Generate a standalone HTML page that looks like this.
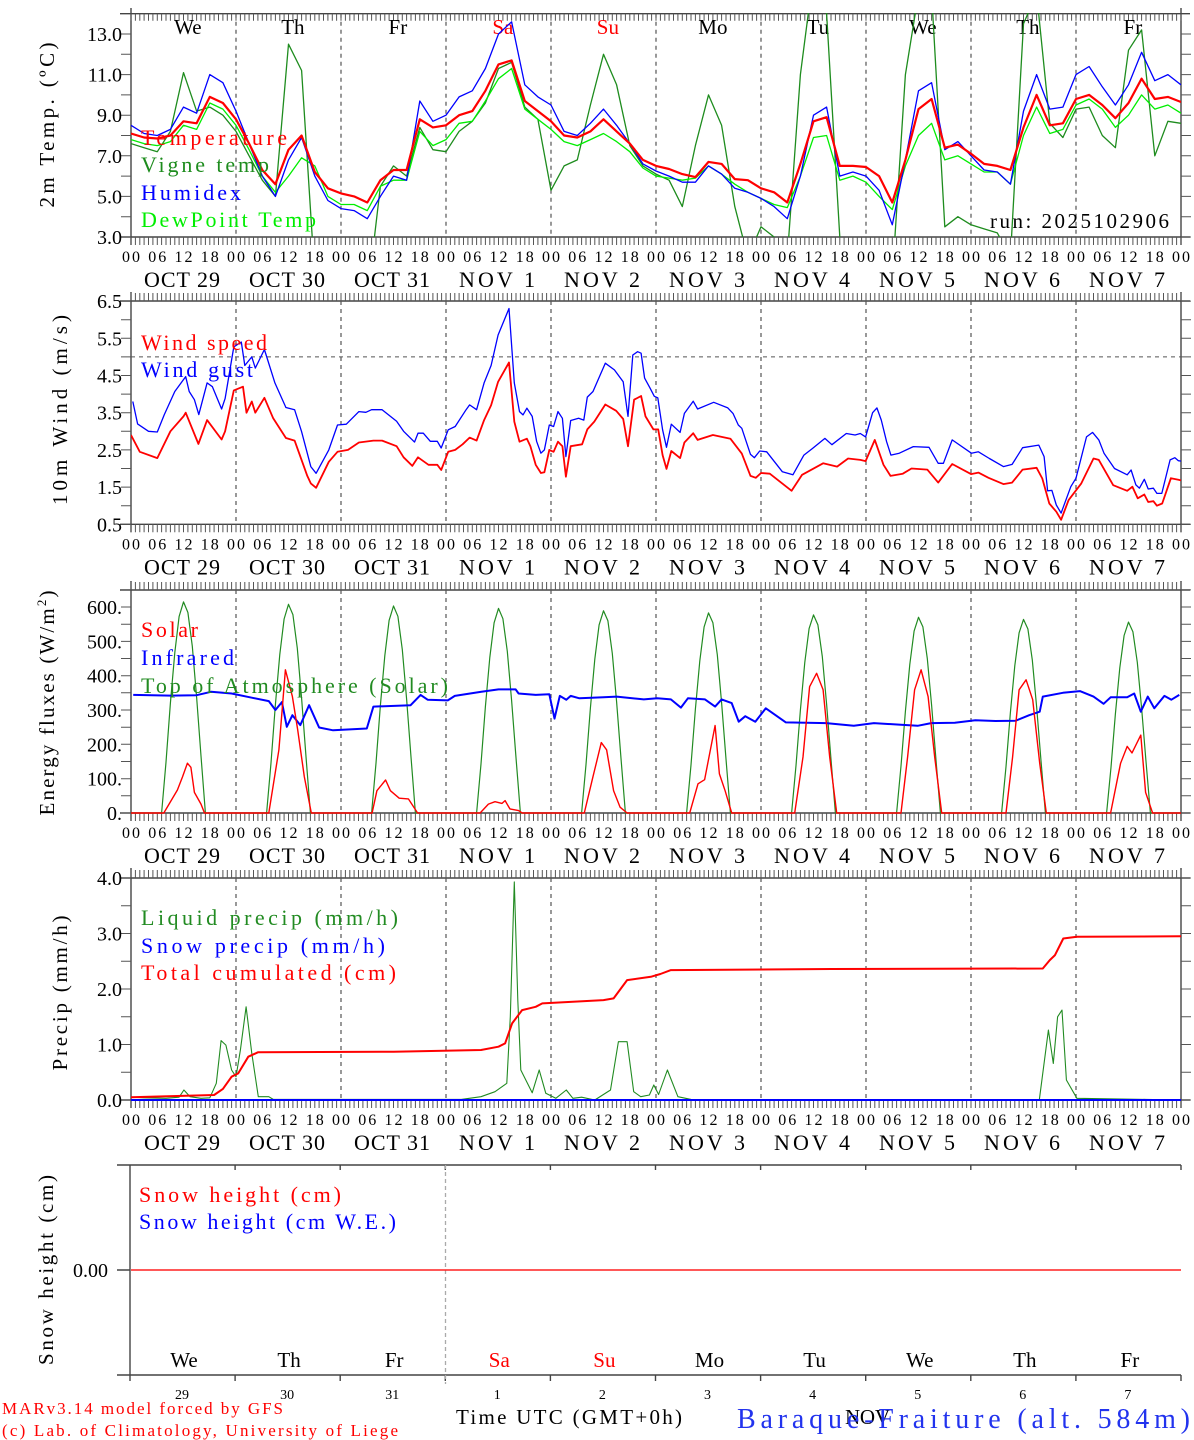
<!DOCTYPE html>
<html><head><meta charset="utf-8"><title>MAR forecast Baraque-Fraiture</title>
<style>
html,body{margin:0;padding:0;background:#fff;}
svg{display:block;font-family:"Liberation Serif",serif;}
</style></head>
<body>
<svg id="chart" xmlns="http://www.w3.org/2000/svg" width="1194" height="1440" viewBox="0 0 1194 1440">
<rect x="0" y="0" width="1194" height="1440" fill="#fff"/>
<defs>
<clipPath id="c1"><rect x="131" y="13" width="1050" height="224"/></clipPath>
<clipPath id="c2"><rect x="131" y="295" width="1050" height="230"/></clipPath>
<clipPath id="c3"><rect x="131" y="585" width="1050" height="229"/></clipPath>
<clipPath id="c4"><rect x="131" y="870" width="1050" height="231"/></clipPath>
</defs>
</svg>
<script>
// ---------- DATA ----------
const weekdays = ['We','Th','Fr','Sa','Su','Mo','Tu','We','Th','Fr'];
const weekendIdx = [3,4];
const dateLabels = ['OCT 29','OCT 30','OCT 31','NOV  1','NOV  2','NOV  3','NOV  4','NOV  5','NOV  6','NOV  7'];
const dayNumbers = ['29','30','31','1','2','3','4','5','6','7'];
const hourLabels = ['00','06','12','18'];

const tempHours = [0,3,6,9,12,15,18,21,24,27,30,33,36,39,42,45,48,51,54,57,60,63,66,69,72,75,78,81,84,87,90,93,96,99,102,105,108,111,114,117,120,123,126,129,132,135,138,141,144,147,150,153,156,159,162,165,168,171,174,177,180,183,186,189,192,195,198,201,204,207,210,213,216,219,222,225,228,231,234,237,240];
const temperature = [8.1,7.9,7.85,8.0,8.7,8.6,9.9,9.6,8.8,7.6,6.3,5.6,7.3,8.0,6.2,5.4,5.15,5.0,4.7,5.8,6.3,6.3,8.8,8.4,8.5,9.0,9.2,10.2,11.5,11.7,9.7,9.2,8.7,8.0,7.9,8.2,8.8,8.2,7.6,6.8,6.5,6.35,6.1,5.95,6.7,6.6,5.85,5.8,5.4,5.2,4.7,6.6,8.7,8.9,6.5,6.5,6.45,6.0,4.7,6.8,9.3,9.8,7.4,7.55,7.1,6.6,6.5,6.3,8.4,10.0,8.5,8.6,9.8,10.0,9.5,8.85,9.6,10.8,9.8,9.9,9.65];
const vigneTemp = [7.6,7.4,7.2,8.2,11.1,9.2,9.4,9.0,8.2,7.0,5.8,5.0,12.5,11.2,1.0,-1,-2,-2,0,5.5,6.5,6.0,8.4,7.3,7.2,8.2,8.7,9.6,11.3,11.6,9.4,8.8,5.3,6.5,6.8,9.5,12.0,10.5,7.5,6.5,6.1,5.8,4.5,7.5,10.0,8.5,4.5,2.0,3.5,3.0,2.0,11.0,16,14,3.0,0.5,1.5,0,1.0,11,15,15,3.5,4.0,3.6,3.4,3.2,2.0,13.5,15,8.6,7.9,9.3,9.4,8.0,7.4,12.2,13.2,7.0,8.7,8.6];
const humidex = [8.5,8.1,8.0,8.3,9.4,9.1,11.0,10.6,9.2,7.6,6.0,5.0,6.8,7.9,6.0,4.8,4.4,4.3,3.9,5.0,6.0,5.8,9.7,8.7,9.0,9.9,10.2,11.3,13.0,13.6,10.5,9.9,9.5,8.2,8.0,8.6,9.3,8.5,7.6,6.6,6.25,6.0,5.7,5.7,6.5,6.1,5.4,5.2,4.9,4.5,3.9,6.0,9.0,9.4,6.0,6.2,6.0,5.3,3.6,6.8,10.2,10.6,7.3,7.7,7.0,6.3,6.2,5.6,9.2,11.0,9.3,9.4,11.0,11.4,10.4,9.5,10.5,12.1,10.7,11.0,10.5];
const dewPoint = [7.8,7.6,7.5,7.7,8.5,8.3,9.6,9.3,8.5,7.3,6.0,5.2,6.0,6.9,6.5,5.0,4.6,4.6,4.3,5.5,5.8,5.8,8.2,7.5,7.8,8.6,8.7,9.7,10.8,11.3,9.3,8.8,8.3,7.7,7.5,7.8,8.1,7.7,7.2,6.4,6.0,5.9,5.8,5.9,6.5,6.1,5.6,5.2,4.9,4.6,4.45,6.0,7.9,8.0,5.8,6.0,5.7,5.0,4.35,6.5,8.0,8.6,6.8,7.0,6.6,6.2,6.2,5.6,8.0,9.4,8.1,8.3,9.5,9.8,9.3,8.4,9.0,10.0,9.3,9.5,9.1];

const windHours = [0,2,6,9,12,12.5,15.4,17.4,20.7,21.5,23.5,25.6,26.4,27.6,28.4,30.5,32.5,35.4,37.4,40.3,41.1,42.3,45.2,47.2,49.6,52.1,55.4,57.4,60.7,62.3,64.3,65.6,68,70,70.9,72.5,74.1,75.8,77.4,79,80.7,82.3,83.9,86.4,87.6,88.8,90.5,91.3,92.5,93.7,94.5,95.6,96.6,97.6,98.6,99.4,100.5,103.1,104.3,105.9,108.4,110.9,112.5,113.6,115,116.6,117.6,119.4,120.5,121.5,122.4,123.5,125.5,126.5,128.5,129.5,133,137,139.6,141.6,142.8,144,146,151,153.4,158.2,161.4,163.9,166.7,167.9,170,172,173.6,176.4,178.4,182,184.5,187.7,192,193.7,196,199.4,201.4,203.8,207,208.3,209.9,211.5,212.6,214.3,217.2,220,221.2,224.5,227.7,228.9,230.1,231.6,232.5,233.7,234.5,235.7,237.7,239.4,240];
const windSpeed = [2.9,2.45,2.28,3.0,3.4,3.5,2.66,3.3,2.78,3.0,4.1,4.2,3.5,3.8,3.5,3.9,3.35,2.82,2.75,1.8,1.6,1.48,2.18,2.45,2.5,2.7,2.75,2.75,2.6,2.3,2.07,2.3,2.1,2.1,1.96,2.45,2.5,2.65,2.83,2.75,3.3,3.7,4.33,4.85,3.26,2.72,2.8,2.6,2.1,1.88,1.9,2.5,2.45,2.72,2.6,1.78,2.6,2.65,3.05,3.26,3.72,3.55,3.33,2.6,3.85,3.95,3.4,3.05,3.05,2.36,1.99,2.47,2.28,2.7,2.95,2.77,2.9,2.8,2.4,1.8,1.75,1.88,1.86,1.4,1.83,2.14,2.05,2.27,2.23,2.2,2.77,2.1,1.8,1.86,2.0,1.97,1.62,2.12,1.85,1.89,1.75,1.58,1.62,1.97,2.02,1.73,1.06,0.84,0.62,1.15,1.6,2.27,2.23,1.55,1.4,1.51,1.2,1.3,1.1,1.12,1.0,1.06,1.74,1.7,1.68];
const gustHours = [0.4,1.5,4,6,7.6,10,12.5,13.3,14.5,15.5,17.4,18.6,20.7,21.5,23.5,25.2,26,27.6,28.4,30.5,32.9,35.4,37.4,39,41.1,42.3,45.2,47.2,49.2,52.1,53.7,55,57.4,60.7,62.3,64.8,65.6,66.8,68.4,70,70.9,72.5,74.1,76.6,77.4,79,80.7,82.3,83.9,86.4,87.6,88.8,89.6,90.5,91.7,92.7,93.7,94.5,95.6,96.6,97.6,98.6,99.4,100.5,102.3,103.5,104.3,105.6,108.4,110.5,112.5,113.6,114.7,115.8,116.6,117.4,118.6,119.6,120.4,121.5,122.4,123.5,125.5,126.5,128.5,129.5,133.2,136.4,137.6,138.8,139.6,141.6,142.5,143.7,145.3,148.9,151.3,153.8,155.8,158.6,160.2,163.5,165.5,166.7,167.9,169.5,170.5,171.5,172.7,173.7,175.6,178.8,182.4,184.5,185.7,187.7,192.1,193.7,196.2,199.4,201.4,203.8,207.5,208.7,209.5,210.5,211.5,212.6,214.8,216,218.4,219.8,221.2,222.4,224.8,227.7,228.6,229.7,230.5,231.6,232.5,233.7,234.5,235.6,237.5,238.6,239.4,240];
const windGust = [3.8,3.2,3.0,2.98,3.45,4.07,4.47,4.07,3.85,3.45,4.3,4.2,3.6,3.88,5.27,5.4,4.77,5.0,4.7,5.2,4.3,3.64,3.58,2.99,2.05,1.87,2.5,3.17,3.19,3.53,3.51,3.58,3.58,3.27,3.0,2.71,2.95,2.95,2.73,2.73,2.55,3.04,3.13,3.58,3.71,3.58,4.3,4.77,5.59,6.3,4.3,3.53,3.44,3.62,3.4,2.73,2.41,2.5,3.17,3.13,3.53,3.35,2.32,3.29,3.35,3.3,3.92,4.07,4.83,4.65,4.33,3.4,5.05,5.14,5.1,4.43,4.17,3.94,3.9,3.04,2.57,3.19,2.97,3.48,3.81,3.6,3.78,3.63,3.48,3.17,3.08,2.38,2.29,2.47,2.45,1.91,1.83,2.36,2.54,2.81,2.64,2.94,2.9,2.94,2.85,3.5,3.63,3.3,2.72,2.36,2.41,2.59,2.57,2.14,2.14,2.77,2.41,2.45,2.27,2.05,2.11,2.56,2.63,2.32,1.4,1.41,1.02,0.8,1.51,1.74,2.85,2.97,2.77,2.41,2.0,1.83,1.96,1.56,1.47,1.71,1.45,1.47,1.33,1.33,2.23,2.29,2.21,2.2];

const toaHourOffsets = [7,8,9,10,11,12,13,14,15,16,17];
const toaValues = [
 [0,148,320,467,572,615,584,486,338,166,0],
 [0,146,316,462,565,608,578,480,334,164,0],
 [0,145,314,458,561,603,573,476,332,163,0],
 [0,143,310,453,554,596,566,471,328,161,0],
 [0,141,306,448,548,589,560,465,324,159,0],
 [0,140,303,443,542,583,554,461,321,157,0],
 [0,138,300,439,537,577,548,456,317,156,0],
 [0,137,296,433,530,570,542,450,314,154,0],
 [0,135,293,429,525,564,536,446,310,152,0],
 [0,133,289,423,517,556,528,439,306,150,0]
];
const solarHours = [0,7.5,10.6,11.8,12.9,13.7,14.5,16,16.8,31.5,33.8,35.3,36.9,38.1,39.6,41.2,55.1,56.2,58.2,59.3,61.3,63.4,65.5,79.8,81.7,83.2,84.8,85.5,86.6,88.6,89.4,103.6,105.6,107.5,108.7,110.3,111.8,113.4,127.7,129.6,131.1,133.5,134.5,135.8,137.3,151.7,153.6,155.1,156.7,158.2,159.7,161.3,176,177.5,179.1,180.6,182.2,183.7,185.3,200,201.5,203,204.6,206.1,207.7,209.2,223.9,226.2,227.7,228.8,230.8,231.9,233.5,240];
const solarValues = [0,0,67,106,145,133,60,26,0,0,184,417,339,242,106,0,0,65,96,65,43,41,0,0,26,33,28,36,12,7,0,0,106,205,184,65,17,0,0,85,97,255,114,65,0,0,163,368,407,359,163,0,0,163,359,417,339,163,0,0,163,359,388,330,145,0,0,145,194,175,227,60,0,0];
const irHours = [0.5,9,15,18.3,23,27.6,31.5,33,34.5,35.6,36.9,38.7,40.7,43,46.2,53.9,55.4,63.9,66.2,67.8,72.4,74,80.1,84,87.9,88.6,92.5,95.6,96.8,98,99.5,100.5,102.5,108,111,117.2,120.3,123.4,125.7,127.3,131.2,133.5,135,137.3,138.9,140.4,142.7,145.1,149.7,154.3,158.9,165.2,169.8,176,179.8,182.9,188.3,193,197.6,202.2,205.3,207.7,208.4,213,216.9,220,222.3,223.9,227.7,229.3,230.8,232.4,233.9,236.2,237.8,239.6];
const irValues = [344,342,343,353,348,336,326,300,323,251,285,256,314,249,241,246,310,314,344,330,328,341,353,360,360,348,344,346,275,341,330,341,334,337,339,331,334,331,307,334,331,310,331,320,266,282,266,305,264,263,262,254,262,257,254,262,263,270,268,269,285,295,339,350,355,339,318,337,337,348,295,339,305,341,330,344];

const liquidHours = [0,3,8,11,12.1,13.5,16,18,19.5,20.6,21.7,23,24,25,26.3,27.6,29.1,31.5,32.5,75.5,80,83.2,85.9,86.7,87.6,88.4,89.1,91.7,93.3,94.8,97.1,99.5,101,103,106,109.6,111.4,113.4,114.9,116.5,118.5,119.5,120.6,122.6,125,128,207.6,209.7,210.8,211.8,212.8,213.8,216.2,232,240];
const liquidPrecip = [0.05,0.04,0.03,0.05,0.18,0.06,0.03,0.04,0.3,1.07,0.99,0.54,0.42,0.9,1.68,0.84,0.06,0.06,0.01,0.01,0.06,0.15,0.3,1.5,3.93,1.8,0.54,0.13,0.54,0.12,0.03,0.18,0.03,0.05,0.0,0.18,1.05,1.05,0.15,0.06,0.09,0.27,0.1,0.54,0.06,0.01,0,1.26,0.66,1.5,1.62,0.36,0.03,0.01,0.0];
const snowPrecipHours = [0,240];
const snowPrecip = [0,0];
const cumHours = [0,19,21,23,24.5,26.8,29,60,80,84,85.5,87.1,89.4,92.5,94,108,110.3,113.4,118.8,121,123.4,160,208.4,210,211.2,213.1,216.2,240];
const cumPrecip = [0.05,0.09,0.2,0.42,0.48,0.78,0.86,0.87,0.9,0.96,1.02,1.38,1.62,1.68,1.74,1.8,1.83,2.16,2.22,2.27,2.34,2.36,2.37,2.52,2.61,2.91,2.94,2.95];
const snowHeightHours = [0,240];
const snowHeight = [0,0];

const tempTicks = ['13.0','11.0','9.0','7.0','5.0','3.0'];
const windTicks = ['6.5','5.5','4.5','3.5','2.5','1.5','0.5'];
const energyTicks = ['600.','500.','400.','300.','200.','100.','0.'];
const precipTicks = ['4.0','3.0','2.0','1.0','0.0'];

// ---------- HELPERS ----------
const NS = 'http://www.w3.org/2000/svg';
const svg = document.getElementById('chart');
function mk(tag, attrs, parent){
  const e = document.createElementNS(NS, tag);
  for (const k in attrs) e.setAttribute(k, attrs[k]);
  (parent || svg).appendChild(e);
  return e;
}
function txt(x, y, s, size, fill, anchor, len, parent){
  const e = mk('text', {x:x, y:y, 'font-size':size, fill:fill||'#000', 'text-anchor':anchor||'start', 'font-family':'"Liberation Serif", serif'}, parent);
  if (len){ e.setAttribute('textLength', len); e.setAttribute('lengthAdjust','spacing'); }
  e.textContent = s;
  return e;
}
const xs = h => 131 + h * 105 / 24;
const y1 = v => 237 - (v - 3) * 20.3;
const y2 = v => 524.3 - (v - 0.5) * 37.2;
const y3 = v => 813 - v * 0.3433;
const y4 = v => 1100 - v * 55.5;

function series(hours, vals, yf, color, w, clip, name){
  let pts = [];
  for (let i = 0; i < hours.length; i++) pts.push(xs(hours[i]).toFixed(1) + ',' + yf(vals[i]).toFixed(1));
  const p = mk('polyline', {points: pts.join(' '), fill:'none', stroke:color, 'stroke-width':w, 'stroke-linejoin':'round', 'clip-path':'url(#' + clip + ')'});
  
  
  return p;
}

function frame(top, bot, axTop, tickUp, yf, minorVals, labels, labelVals, name){
  const g = mk('g', {});
  
  
  let d = 'M120 ' + top + 'H1190M120 ' + bot + 'H1190M131 ' + axTop + 'V' + (bot + 8) + 'M1181 ' + axTop + 'V' + (bot + 8);
  const fr = mk('path', {d:d, stroke:'#444', 'stroke-width':1.4, fill:'none'}, g);
  
  
  let t = '';
  for (let h = 0; h <= 240; h++){
    const x = xs(h).toFixed(1);
    t += 'M' + x + ' ' + top + 'V' + (tickUp ? top - 8 : top + 7);
    t += 'M' + x + ' ' + bot + 'V' + (bot + 8);
  }
  for (const v of minorVals){
    const y = yf(v).toFixed(1);
    t += 'M121 ' + y + 'H131M1181 ' + y + 'H1191';
  }
  const tk = mk('path', {d:t, stroke:'#555', 'stroke-width':1}, g);
  
  
  let dl = '';
  for (let k = 1; k < 10; k++) dl += 'M' + xs(24 * k).toFixed(1) + ' ' + top + 'V' + bot;
  const dash = mk('path', {d:dl, stroke:'#555', 'stroke-width':1.2, 'stroke-dasharray':'4,4'}, g);
  
  
  for (let i = 0; i < labels.length; i++){
    const tl = txt(122, yf(labelVals[i]) + 7, labels[i], 20, '#000', 'end', null, g);
    
    
  }
  for (let dd = 0; dd < 10; dd++){
    for (let k = 0; k < 4; k++){
      const hl = txt(xs(24 * dd + 6 * k), bot + 25, hourLabels[k], 16, '#000', 'middle', 18, g);
      
      
    }
    const dlab = txt(xs(24 * dd) + 51, bot + 50, dateLabels[dd], 22, '#000', 'middle', 76, g);
    
    
  }
  const last = txt(1181, bot + 25, '00', 16, '#000', 'middle', 18, g);
  
  
}
function legend(x, y, s, color, len){
  const e = txt(x, y + 7, s, 22, color, 'start', len);
  
  
}
function ytitle(cx, cy, s, len){
  const e = txt(0, 0, s, 21, '#000', 'middle', len);
  e.setAttribute('transform', 'translate(' + (cx + 7) + ',' + cy + ') rotate(-90)');
  
  
}

// ---------- PANEL 1: temperature ----------
frame(13.7, 237, 8, false, y1, [3,4,5,6,7,8,9,10,11,12,13], tempTicks, [13,11,9,7,5,3], 'temp');
for (let i = 0; i < 10; i++){
  const w = txt(xs(24 * i + 13), 34, weekdays[i], 21, weekendIdx.includes(i) ? '#f00' : '#000', 'middle');
  
  
}
series(tempHours, vigneTemp, y1, '#1e8c1e', 1.3, 'c1', 'vigne-temp-line');
series(tempHours, dewPoint, y1, '#00ee00', 1.3, 'c1', 'dewpoint-line');
series(tempHours, humidex, y1, '#0000ff', 1.3, 'c1', 'humidex-line');
series(tempHours, temperature, y1, '#ff0000', 2.2, 'c1', 'temperature-line');
legend(141, 138, 'Temperature', '#f00', 146);
legend(141, 165, 'Vigne temp', '#1e8c1e', 128);
legend(141, 193, 'Humidex', '#00f', 100);
legend(141, 220, 'DewPoint Temp', '#00ee00', 175);
const run = txt(990, 228, 'run: 2025102906', 21, '#000', 'start', 179);


ytitle(47, 125, '2m Temp. (ºC)', 165);

// ---------- PANEL 2: wind ----------
frame(301, 524.3, 292, true, y2, [0.5,1,1.5,2,2.5,3,3.5,4,4.5,5,5.5,6,6.5], windTicks, [6.5,5.5,4.5,3.5,2.5,1.5,0.5], 'wind');
const ref = mk('line', {x1:131, x2:1181, y1:y2(5), y2:y2(5), stroke:'#555', 'stroke-width':1, 'stroke-dasharray':'4,4'});


series(gustHours, windGust, y2, '#0000ff', 1.3, 'c2', 'wind-gust-line');
series(windHours, windSpeed, y2, '#ff0000', 1.8, 'c2', 'wind-speed-line');
legend(141, 343, 'Wind speed', '#f00', 126);
legend(141, 370, 'Wind gust', '#00f', 112);
ytitle(60, 410, '10m Wind (m/s)', 190);

// ---------- PANEL 3: energy ----------
frame(590, 813, 581, true, y3, [0,50,100,150,200,250,300,350,400,450,500,550,600,650], energyTicks, [600,500,400,300,200,100,0], 'energy');
let toaH = [0], toaV = [0];
for (let d = 0; d < 10; d++){
  for (let k = 0; k < toaHourOffsets.length; k++){ toaH.push(24 * d + toaHourOffsets[k]); toaV.push(toaValues[d][k]); }
}
toaH.push(240); toaV.push(0);
series(toaH, toaV, y3, '#228b22', 1.2, 'c3', 'toa-solar-line');
series(irHours, irValues, y3, '#0000ff', 2, 'c3', 'infrared-line');
series(solarHours, solarValues, y3, '#ff0000', 1.4, 'c3', 'solar-line');
legend(141, 630, 'Solar', '#f00', 57);
legend(141, 658, 'Infrared', '#00f', 93);
legend(141, 686, 'Top of Atmosphere (Solar)', '#228b22', 307);
const et = mk('text', {x:0, y:0, 'font-size':21, fill:'#000', 'text-anchor':'middle', 'font-family':'"Liberation Serif", serif', textLength:225, lengthAdjust:'spacing'});
et.setAttribute('transform', 'translate(54,703) rotate(-90)');


const ts1 = mk('tspan', {}, et); ts1.textContent = 'Energy fluxes (W/m';
const ts2 = mk('tspan', {dy:-8, 'font-size':13}, et); ts2.textContent = '2';
const ts3 = mk('tspan', {dy:8}, et); ts3.textContent = ')';

// ---------- PANEL 4: precip ----------
frame(878, 1100, 868, true, y4, [0,0.5,1,1.5,2,2.5,3,3.5,4], precipTicks, [4,3,2,1,0], 'precip');
series(liquidHours, liquidPrecip, y4, '#228b22', 1.1, 'c4', 'liquid-precip-line');
series(snowPrecipHours, snowPrecip, y4, '#0000ff', 2, 'c4', 'snow-precip-line');
series(cumHours, cumPrecip, y4, '#ff0000', 2, 'c4', 'cumulated-precip-line');
legend(141, 918, 'Liquid precip (mm/h)', '#228b22', 257);
legend(141, 946, 'Snow precip (mm/h)', '#00f', 244);
legend(141, 973, 'Total cumulated (cm)', '#f00', 255);
ytitle(60, 993, 'Precip (mm/h)', 155);

// ---------- PANEL 5: snow ----------
const sg = mk('g', {});


let sd = 'M117 1165H1181M117 1375H1181M130 1165V1381M117 1270H130';
for (let d = 0; d <= 10; d++){ const x = 130 + 105.1 * d; sd += 'M' + x + ' 1375V1381M' + x + ' 1165V1170'; }
const sf = mk('path', {d:sd, stroke:'#444', 'stroke-width':1.4, fill:'none'}, sg);


const sdash = mk('line', {x1:445.5, x2:445.5, y1:1165, y2:1384, stroke:'#aaa', 'stroke-width':1.3, 'stroke-dasharray':'4,3'}, sg);


const s0 = txt(108, 1277, '0.00', 20, '#000', 'end');


const ysn = v => 1270 - v * 50;
const shp = [];
for (let i = 0; i < snowHeightHours.length; i++) shp.push(xs(snowHeightHours[i]).toFixed(1) + ',' + ysn(snowHeight[i]).toFixed(1));
const shl = mk('polyline', {points: shp.join(' '), fill:'none', stroke:'#ff2020', 'stroke-width':1.6});


for (let i = 0; i < 10; i++){
  const w = txt(130 + 105.1 * i + 54, 1367, weekdays[i], 21, weekendIdx.includes(i) ? '#f00' : '#000', 'middle');
  
  
  const n = txt(130 + 105.1 * i + 52, 1399, dayNumbers[i], 14, '#000', 'middle');
  
  
}
legend(139, 1195, 'Snow height (cm)', '#f00', 202);
legend(139, 1222, 'Snow height (cm W.E.)', '#00f', 257);
ytitle(46, 1270, 'Snow height (cm)', 190);

// ---------- FOOTER ----------
const f1 = txt(2, 1414, 'MARv3.14 model forced by GFS', 17, '#f00', 'start', 281);


const f2 = txt(2, 1436, '(c) Lab. of Climatology, University of Liege', 17, '#f00', 'start', 396);


const xt = txt(456, 1424, 'Time UTC (GMT+0h)', 21, '#000', 'start', 226);


const nv = txt(845, 1424, 'NOV', 21, '#000', 'start', 45);


const st = txt(737, 1428, 'Baraque-Fraiture (alt. 584m)', 28, '#2233ee', 'start', 453);


</script>
</body></html>
